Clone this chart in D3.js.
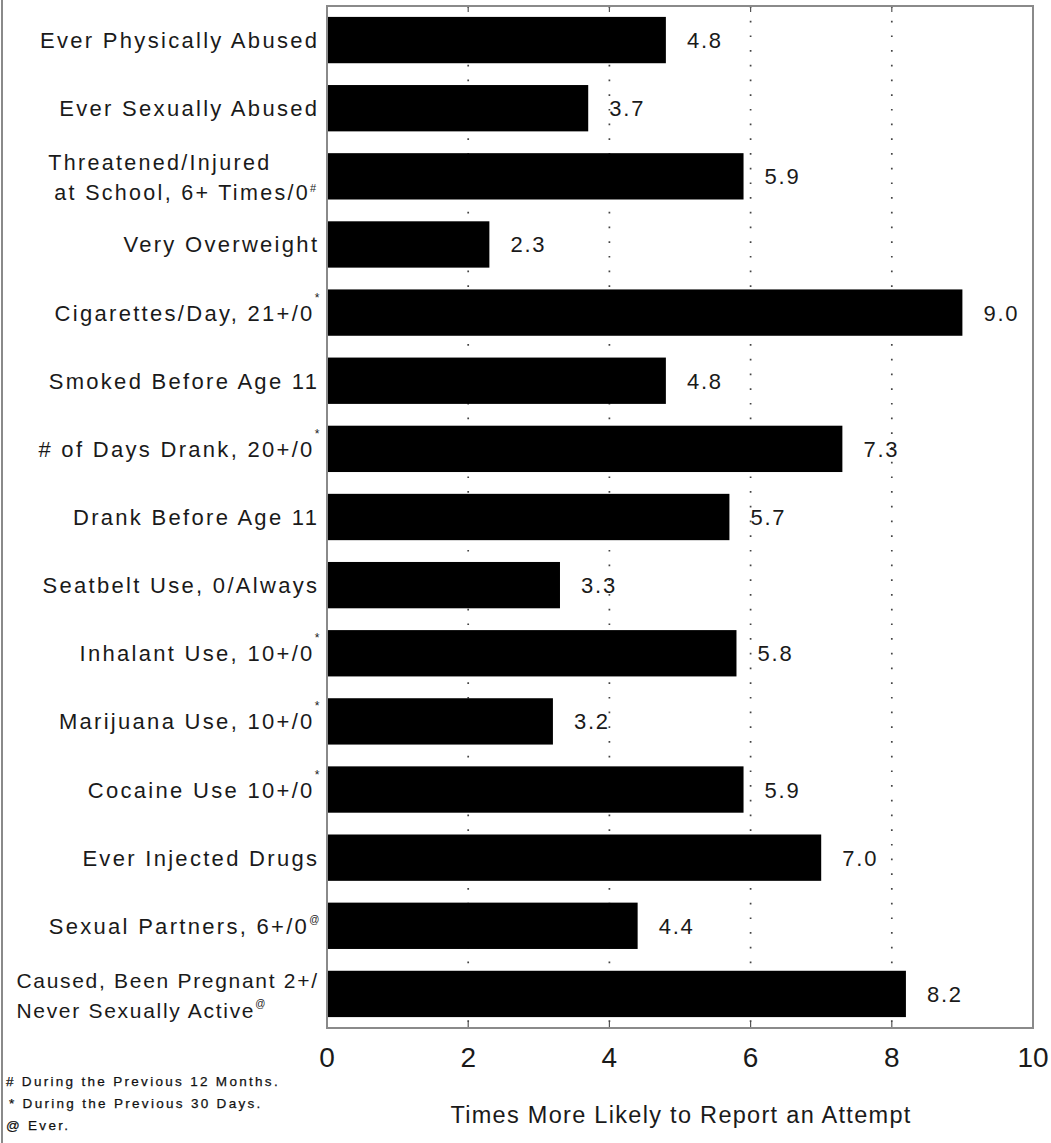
<!DOCTYPE html>
<html><head><meta charset="utf-8">
<script src="https://cdn.jsdelivr.net/npm/d3@7"></script>
<style>
html,body{margin:0;padding:0;background:#fff;}
svg{display:block;font-family:"Liberation Sans",Arial,sans-serif;}
</style></head>
<body>
<svg id="chart" width="1051" height="1143"></svg>
<script>
// ---- data ----
const categories = [
  ["Ever Physically Abused"],
  ["Ever Sexually Abused"],
  ["Threatened/Injured", "at School, 6+ Times/0"],
  ["Very Overweight"],
  ["Cigarettes/Day, 21+/0"],
  ["Smoked Before Age 11"],
  ["# of Days Drank, 20+/0"],
  ["Drank Before Age 11"],
  ["Seatbelt Use, 0/Always"],
  ["Inhalant Use, 10+/0"],
  ["Marijuana Use, 10+/0"],
  ["Cocaine Use 10+/0"],
  ["Ever Injected Drugs"],
  ["Sexual Partners, 6+/0"],
  ["Caused, Been Pregnant 2+/", "Never Sexually Active"]
];
const marks = ["", "", "#", "", "*", "", "*", "", "", "*", "*", "*", "", "@", "@"];
const values = [4.8, 3.7, 5.9, 2.3, 9.0, 4.8, 7.3, 5.7, 3.3, 5.8, 3.2, 5.9, 7.0, 4.4, 8.2];
const xTicks = [0, 2, 4, 6, 8, 10];
const gridTicks = [2, 4, 6, 8];
const xTitle = "Times More Likely to Report an Attempt";
const footnotes = ["# During the Previous 12 Months.", "* During the Previous 30 Days.", "@ Ever."];

// ---- layout ----
const svg = d3.select("#chart");
const L = 327, R = 1033, T = 6, B = 1028;
const x = d3.scaleLinear().domain([0, 10]).range([L, R]);
const y = d3.scaleBand().domain(d3.range(values.length)).range([T, B]).paddingInner(0.32).paddingOuter(0.16);
const ink = "#1a1a1a";
const frameCol = "#8a8a8a";

// page left edge line
svg.append("line").attr("x1", 2).attr("x2", 2).attr("y1", 0).attr("y2", 1143)
  .attr("stroke", frameCol).attr("stroke-width", 2);

// dotted gridlines
svg.append("g").selectAll("line").data(gridTicks).join("line")
  .attr("x1", d => x(d)).attr("x2", d => x(d))
  .attr("y1", T).attr("y2", B)
  .attr("stroke", "#444").attr("stroke-width", 1.7)
  .attr("stroke-dasharray", "1.7,13");

// tick marks top & bottom (inside)
const tickG = svg.append("g");
tickG.selectAll("line.b").data(gridTicks).join("line").attr("class", "b")
  .attr("x1", d => x(d)).attr("x2", d => x(d)).attr("y1", B).attr("y2", B - 6)
  .attr("stroke", "#555").attr("stroke-width", 1.2);
tickG.selectAll("line.t").data(gridTicks).join("line").attr("class", "t")
  .attr("x1", d => x(d)).attr("x2", d => x(d)).attr("y1", T).attr("y2", T + 6)
  .attr("stroke", "#555").attr("stroke-width", 1.2);

// bars
svg.append("g").selectAll("rect").data(values).join("rect")
  .attr("x", x(0)).attr("y", (d, i) => y(i))
  .attr("width", d => x(d) - x(0)).attr("height", y.bandwidth())
  .attr("fill", "#000");

// frame
svg.append("rect").attr("x", L).attr("y", T).attr("width", R - L).attr("height", B - T)
  .attr("fill", "none").attr("stroke", frameCol).attr("stroke-width", 2);

// value labels
svg.append("g").selectAll("text").data(values).join("text")
  .attr("x", d => x(d) + 21)
  .attr("y", (d, i) => y(i) + y.bandwidth() / 2 + 8)
  .attr("font-size", 22).attr("letter-spacing", 1.8).attr("fill", ink)
  .text(d => d.toFixed(1));

// category labels
const supDy = {"*": -19, "#": -8, "@": -11};
const supSize = {"*": 12, "#": 11, "@": 10};
const labelRight = 317;
categories.forEach((lines, i) => {
  const c = y(i) + y.bandwidth() / 2;
  const g = svg.append("g");
  if (lines.length === 1) {
    const ls = 2.3;
    const t = g.append("text").attr("font-size", 22).attr("letter-spacing", ls).attr("fill", ink)
      .attr("text-anchor", "end").attr("x", labelRight + ls).attr("y", c + 8);
    t.append("tspan").text(lines[0]);
    if (marks[i]) t.append("tspan").attr("dy", supDy[marks[i]]).attr("font-size", supSize[marks[i]]).attr("letter-spacing", 0).text(marks[i]);
  } else {
    // two-line block, left aligned, right edge of widest line at labelRight
    const ls = (i === 2) ? 2.3 : 1.7;
    const fs = (i === 2) ? 21.5 : 21;
    const indent = (i === 2) ? 6 : 0;
    g.append("text").attr("font-size", fs).attr("letter-spacing", ls).attr("fill", ink)
      .attr("x", 0).attr("y", c - 6).text(lines[0]);
    const t = g.append("text").attr("font-size", fs).attr("letter-spacing", ls).attr("fill", ink)
      .attr("x", indent).attr("y", c + 24);
    t.append("tspan").text(lines[1]);
    if (marks[i]) t.append("tspan").attr("dy", supDy[marks[i]]).attr("font-size", supSize[marks[i]]).attr("letter-spacing", 0).text(marks[i]);
    const bb = g.node().getBBox();
    g.attr("transform", `translate(${labelRight - (bb.x + bb.width) + (i === 2 ? 0 : ls)},0)`);
  }
});

// x tick labels
svg.append("g").selectAll("text").data(xTicks).join("text")
  .attr("x", d => x(d)).attr("y", 1067)
  .attr("text-anchor", "middle").attr("font-size", 28).attr("fill", ink)
  .text(d => d);

// x title
svg.append("text").attr("x", (L + R) / 2 + 1).attr("y", 1123)
  .attr("text-anchor", "middle").attr("font-size", 23.5).attr("letter-spacing", 1.3).attr("fill", ink)
  .text(xTitle);

// footnotes
const fnY = [1086, 1108, 1130];
svg.append("g").selectAll("text").data(footnotes).join("text")
  .attr("x", (d, i) => i === 1 ? 9 : 6).attr("y", (d, i) => fnY[i])
  .attr("font-size", 13.5).attr("letter-spacing", 2.3).attr("fill", "#111")
  .attr("stroke", "#111").attr("stroke-width", 0.25)
  .text(d => d);
</script>
</body></html>
